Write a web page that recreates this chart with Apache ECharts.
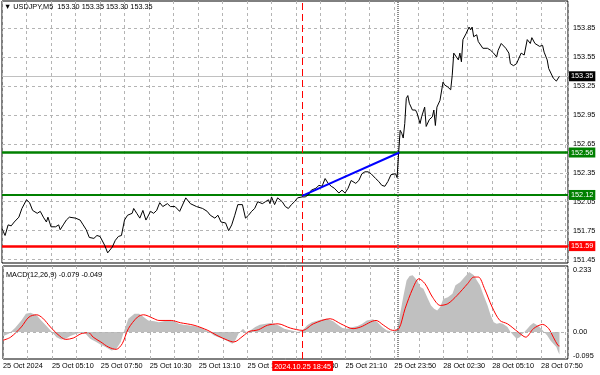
<!DOCTYPE html>
<html><head><meta charset="utf-8">
<script src="https://cdn.jsdelivr.net/npm/echarts@6/dist/echarts.min.js"></script>
<style>html,body{margin:0;padding:0;background:#fff}#c{width:600px;height:375px}</style>
</head><body><div id="c"></div>
<script>
const symbolTitle = "\u25BC USDJPY,M5  153.30 153.35 153.30 153.35";
const macdTitle = "MACD(12,26,9) -0.079 -0.049";
const timeLabels = ["25 Oct 2024","25 Oct 05:10","25 Oct 07:50","25 Oct 10:30","25 Oct 13:10","25 Oct 15:50","25 Oct 18:30","25 Oct 21:10","25 Oct 23:50","28 Oct 02:30","28 Oct 05:10","28 Oct 07:50"];
const priceTicks = [151.45,151.75,152.05,152.35,152.65,152.95,153.25,153.55,153.85];
const macdTicks = [-0.095,0,0.233];
const macdTickLabels = ["-0.095","0.00","0.233"];

// price (close) by 5-minute bar index
const priceBar = [0,2,4,6,8,11,13,14,16,18,20,23,25,27,29,30,32,35,37,38,40,42,44,48,51,53,55,57,60,62,64,67,69,72,74,76,78,80,82,85,86,88,90,92,94,97,99,101,103,105,108,110,113,116,120,123,127,131,134,136,139,141,143,146,148,150,152,154,157,159,161,163,165,167,170,172,174,175,176,178,180,183,185,187,189,191,193,196,198,200,202,205,207,209,211,213,215,217,220,222,224,226,228,231,233,235,237,239,241,244,246,248,250,252,254,257,258,259,260,261,262,263,264,265,266,268,270,271,273,274,276,277,279,281,282,283,284,286,288,289,291,293,294,295,296,298,299,300,301,303,305,306,307,308,310,311,312,314,317,319,321,323,324,326,327,329,331,332,334,336,337,339,340,341,343,345,346,348,349,351,353,354,356,357,358,360,362,363,364];
const priceClose = [151.77,151.70,151.81,151.80,151.84,151.89,151.98,151.96,152.07,152.04,
151.96,151.93,151.95,151.89,151.84,151.89,151.79,151.79,151.81,151.76,
151.81,151.86,151.89,151.88,151.86,151.81,151.76,151.68,151.67,151.70,
151.69,151.60,151.52,151.58,151.65,151.69,151.70,151.86,151.91,151.93,
151.98,151.93,151.88,151.96,151.86,151.95,151.93,151.96,152.04,152.00,
152.03,152.00,152.00,151.95,152.09,152.03,152.00,151.98,151.95,151.91,
151.88,151.91,151.84,151.83,151.75,151.81,151.91,152.02,152.02,151.88,
151.91,151.95,151.98,152.05,152.03,152.05,152.07,152.03,152.10,152.02,
152.09,152.05,152.00,151.98,152.02,152.05,152.09,152.10,152.10,152.12,
152.17,152.19,152.22,152.21,152.29,152.24,152.21,152.19,152.14,152.17,
152.14,152.19,152.27,152.24,152.27,152.34,152.36,152.36,152.34,152.29,
152.26,152.22,152.21,152.26,152.33,152.34,152.30,152.56,152.79,152.76,
152.71,152.86,153.12,153.15,153.07,153.00,153.00,152.97,152.86,152.93,
153.03,152.83,152.90,152.93,153.00,152.84,153.03,153.10,153.29,153.26,
153.24,153.21,153.36,153.59,153.60,153.52,153.59,153.50,153.73,153.79,
153.86,153.83,153.86,153.76,153.78,153.71,153.69,153.64,153.64,153.62,
153.59,153.55,153.62,153.69,153.67,153.64,153.59,153.48,153.46,153.48,
153.49,153.59,153.60,153.57,153.73,153.69,153.75,153.69,153.69,153.66,
153.67,153.60,153.52,153.43,153.41,153.33,153.30,153.30,153.35];
const lastPrice = 153.35;

// horizontal levels
const resistanceLevel = 152.56;
const supportLevel = 152.12;
const stopLevel = 151.59;

// blue trend line
const trendBar = [196, 259.5];
const trendPrice = [152.11, 152.56];

// vertical markers
const eventBar = 196;
const eventLabel = "2024.10.25 18:45";
const daySeparatorBar = 258.5;

// MACD histogram
const histBar = [0,4,8,12,15,18,22,25,28,31,35,38,41,44,48,51,54,57,61,64,67,71,74,77,79,82,86,89,92,95,99,102,105,108,112,115,118,121,125,128,131,135,138,141,144,148,150,152,154,157,159,162,165,168,172,175,180,184,188,193,196,199,202,206,209,212,216,219,222,225,229,232,235,238,242,245,248,251,255,258,260,262,264,266,268,271,273,275,278,280,282,284,286,288,291,294,296,299,302,305,308,310,312,314,317,319,321,323,325,327,330,332,334,336,338,340,343,345,347,349,351,353,356,358,360,362,363,364];
const histVal = [-0.015,-0.005,0.015,0.041,0.065,0.068,0.059,0.041,0.024,0.006,
-0.018,-0.026,-0.024,-0.014,-0.006,-0.002,-0.006,-0.024,-0.035,-0.045,
-0.053,-0.065,-0.061,-0.035,0,0.047,0.065,0.065,0.053,0.041,
0.038,0.035,0.038,0.041,0.038,0.029,0.026,0.024,0.021,0.018,
0.012,0,-0.012,-0.018,-0.024,-0.035,-0.041,-0.029,-0.006,0.012,
0,0.006,0.018,0.026,0.029,0.032,0.024,0.012,0.006,0,
0.006,0.024,0.035,0.041,0.045,0.047,0.038,0.026,0.014,0.012,
0.018,0.021,0.029,0.041,0.045,0.035,0.018,0.006,0,0.012,
0.071,0.129,0.182,0.198,0.200,0.182,0.159,0.153,0.117,0.094,
0.082,0.076,0.088,0.117,0.123,0.135,0.165,0.176,0.194,0.212,
0.200,0.182,0.165,0.135,0.094,0.059,0.035,0.029,0.032,0.029,
0.018,0,-0.012,-0.024,-0.018,-0.006,0.012,0.024,0.032,0.026,
0.018,0.006,-0.012,-0.029,-0.041,-0.053,-0.068,-0.079];

// MACD signal line
const sigBar = [0,5,12,17,22,26,31,36,41,46,51,56,59,64,69,74,78,82,88,92,98,102,110,116,125,134,140,147,151,157,161,167,173,180,188,196,203,214,221,229,234,244,249,255,259,263,268,272,276,281,286,291,297,304,308,311,315,320,325,330,337,342,347,353,357,360,363,364];
const sigVal = [-0.029,-0.018,0.018,0.053,0.061,0.049,0.018,-0.009,-0.026,-0.021,
-0.006,-0.002,-0.018,-0.035,-0.053,-0.061,-0.041,0.012,0.053,0.061,
0.049,0.041,0.041,0.033,0.024,0.006,-0.012,-0.029,-0.035,-0.014,
0.002,0.008,0.024,0.029,0.014,0.006,0.029,0.047,0.029,0.012,
0.018,0.041,0.024,0.006,0.012,0.082,0.153,0.188,0.171,0.123,
0.094,0.100,0.129,0.171,0.194,0.194,0.153,0.088,0.041,0.029,
0,-0.018,0.012,0.027,0.012,-0.018,-0.047,-0.049];

const PMIN = 151.415, PMAX = 154.13;
const MMIN = -0.095, MMAX = 0.233;
const XMAX = 369.6;

const FONT = '"Liberation Sans", Arial, "DejaVu Sans", sans-serif';
const FS = 7.3;
const pair = (a, b) => a.map((v, i) => [v, b[i]]);
const gridLine = {color: '#b4b4b4', type: [3, 3], width: 1};
const sepLine = {color: '#666', width: 1.5, type: [1, 1]};
const boxLabel = (txt, bg) => ({show: true, position: 'end', distance: 1, formatter: txt,
  backgroundColor: bg, color: '#fff', fontSize: FS, fontFamily: FONT, padding: [1, 2, 0, 2], lineHeight: 9});

const chart = echarts.init(document.getElementById('c'));
chart.setOption({
  animation: false,
  backgroundColor: '#fff',
  textStyle: {fontFamily: FONT},
  title: [
    {text: symbolTitle, left: 4, top: 3, padding: 0, textStyle: {fontSize: FS, fontWeight: 'normal', color: '#000', fontFamily: FONT}},
    {text: macdTitle, left: 6, top: 271, padding: 0, textStyle: {fontSize: FS, fontWeight: 'normal', color: '#000', fontFamily: FONT}}
  ],
  grid: [
    {left: 2, right: 32, top: 1, height: 262, show: true, borderColor: '#000', borderWidth: 1},
    {left: 2, right: 32, top: 266, height: 93, show: true, borderColor: '#000', borderWidth: 1}
  ],
  xAxis: [
    {gridIndex: 0, type: 'value', min: 0, max: XMAX, interval: 16,
     axisLine: {show: false}, axisTick: {show: false}, axisLabel: {show: false},
     splitLine: {show: true, lineStyle: gridLine}},
    {gridIndex: 1, type: 'value', min: 0, max: XMAX, interval: 16,
     axisLine: {show: false}, axisTick: {show: false},
     axisLabel: {show: true, margin: 3, align: 'left', fontSize: FS, color: '#000', fontFamily: FONT,
       formatter: v => (Math.abs(v % 32) < 1e-6 && timeLabels[v / 32]) ? timeLabels[v / 32] : ''},
     splitLine: {show: true, lineStyle: gridLine}}
  ],
  yAxis: [
    {gridIndex: 0, type: 'value', position: 'right', min: PMIN, max: PMAX,
     axisLine: {show: false}, axisTick: {show: false, customValues: priceTicks},
     axisLabel: {customValues: priceTicks, formatter: v => v.toFixed(2), margin: 5, fontSize: FS, color: '#000', fontFamily: FONT},
     splitLine: {show: false}},
    {gridIndex: 1, type: 'value', position: 'right', min: MMIN, max: MMAX,
     axisLine: {show: false}, axisTick: {show: false, customValues: macdTicks},
     axisLabel: {customValues: macdTicks, margin: 5, fontSize: FS, color: '#000', fontFamily: FONT,
       verticalAlignMaxLabel: 'top', verticalAlignMinLabel: 'bottom',
       formatter: v => { const i = macdTicks.findIndex(t => Math.abs(t - v) < 1e-9); return i >= 0 ? macdTickLabels[i] : ''; }},
     splitLine: {show: false}}
  ],
  series: [
    {type: 'line', xAxisIndex: 0, yAxisIndex: 0, data: pair(priceBar, priceClose), symbol: 'none',
     lineStyle: {color: '#000', width: 1}, z: 3,
     markLine: {silent: true, symbol: ['none', 'none'], animation: false, z: 2,
       data: [
         ...priceTicks.map(v => ({yAxis: v, lineStyle: gridLine, label: {show: false}})),
         {yAxis: lastPrice, lineStyle: {color: '#c0c0c0', width: 1, type: 'solid'}, label: boxLabel(lastPrice.toFixed(2), '#000')},
         {yAxis: resistanceLevel, lineStyle: {color: '#008000', width: 2.5, type: 'solid'}, label: boxLabel(resistanceLevel.toFixed(2), '#008000')},
         {yAxis: supportLevel, lineStyle: {color: '#008000', width: 2, type: 'solid'}, label: boxLabel(supportLevel.toFixed(2), '#008000')},
         {yAxis: stopLevel, lineStyle: {color: '#ff0000', width: 2.5, type: 'solid'}, label: boxLabel(stopLevel.toFixed(2), '#ff0000')},
         {xAxis: eventBar, lineStyle: {color: '#ff0000', width: 1, type: [7, 4]}, label: {show: false}},
         {xAxis: daySeparatorBar, lineStyle: sepLine, label: {show: false}}
       ]}},
    {type: 'line', xAxisIndex: 0, yAxisIndex: 0, data: pair(trendBar, trendPrice), symbol: 'none',
     lineStyle: {color: '#0000ff', width: 2}, z: 4},
    {type: 'line', xAxisIndex: 1, yAxisIndex: 1, data: pair(histBar, histVal), symbol: 'none',
     lineStyle: {width: 0, color: '#c0c0c0'}, areaStyle: {color: '#c0c0c0', opacity: 1, origin: 'auto'}, z: 2,
     markLine: {silent: true, symbol: ['none', 'none'], animation: false,
       data: [
         {yAxis: 0, lineStyle: gridLine, label: {show: false}},
         {xAxis: eventBar, lineStyle: {color: '#ff0000', width: 1, type: [7, 4]},
          label: {show: true, position: 'start', distance: 2, formatter: eventLabel, backgroundColor: '#ff0000', color: '#fff',
            fontSize: FS, fontFamily: FONT, padding: [1, 2, 0, 2], lineHeight: 9}},
         {xAxis: daySeparatorBar, lineStyle: sepLine, label: {show: false}}
       ]}},
    {type: 'line', xAxisIndex: 1, yAxisIndex: 1, data: pair(sigBar, sigVal), symbol: 'none', smooth: 0.3,
     lineStyle: {color: '#ff0000', width: 1}, z: 4}
  ]
});
</script></body></html>
